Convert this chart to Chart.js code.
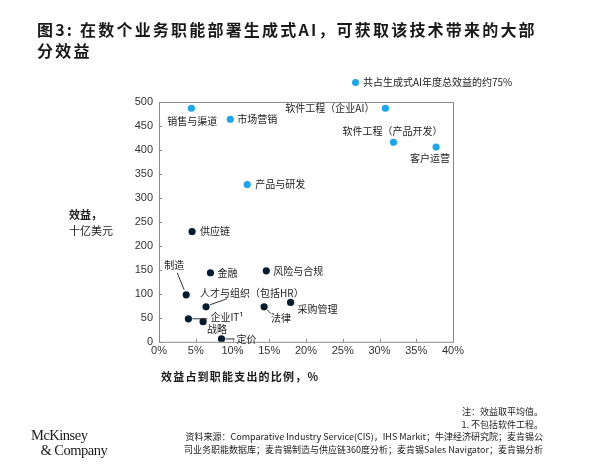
<!DOCTYPE html>
<html>
<head>
<meta charset="utf-8">
<script src="https://cdn.jsdelivr.net/npm/chart.js@4.4.0/dist/chart.umd.min.js"></script>
<style>
  body { margin: 0; background: #fff; }
  #wrap { position: relative; width: 600px; height: 471px; overflow: hidden; }
  #wrap canvas { position: absolute; left: 0; top: 0; }
  #wrap div { position: absolute; white-space: nowrap; color: #1a1a1a; }
  .cjk { font-family: "Noto Sans CJK SC", "Liberation Sans", sans-serif; }
  #title { left: 37px; top: 19px; font-size: 16px; font-weight: bold; line-height: 21px; letter-spacing: 2.2px; color: #111; }
  #legend { left: 352px; top: 74px; font-size: 10px; color: #333; }
  #legend span.dot { display: inline-block; width: 7px; height: 7px; border-radius: 50%; background: #1aa7ec; margin-right: 4px; vertical-align: 0px; }
  #ytitle { left: 69px; top: 206px; font-size: 11px; line-height: 16px; color: #222; }
  #xtitle { left: 161px; top: 368px; font-size: 11px; font-weight: bold; letter-spacing: 1.2px; color: #222; }
  #notes { right: 57px; top: 406px; font-size: 9px; line-height: 12.5px; text-align: right; color: #333; }
  #logo { left: 31px; top: 428px; font-family: "Liberation Serif", "DejaVu Serif", serif; font-size: 14.5px; line-height: 15px; color: #0b1f3a; letter-spacing: -0.5px; }
</style>
</head>
<body>
<div id="wrap">
  <canvas id="chart" width="600" height="471"></canvas>
  <div id="title" class="cjk">图3: 在数个业务职能部署生成式AI，可获取该技术带来的大部<br>分效益</div>
  <div id="legend" class="cjk"><span class="dot"></span>共占生成式AI年度总效益的约75%</div>
  <div id="ytitle" class="cjk"><b>效益，</b><br>十亿美元</div>
  <div id="xtitle" class="cjk">效益占到职能支出的比例，%</div>
  <div id="notes" class="cjk">注：效益取平均值。<br>1. 不包括软件工程。<br>资料来源：Comparative Industry Service(CIS)，IHS Markit；牛津经济研究院；麦肯锡公<br>司业务职能数据库；麦肯锡制造与供应链360度分析；麦肯锡Sales Navigator；麦肯锡分析</div>
  <div id="logo">McKinsey<br>&nbsp;&nbsp;&nbsp;&amp; Company</div>
</div>
<script>
// 数据：蓝点 = 共占约75%的职能
const blueNames = ['销售与渠道', '市场营销', '软件工程（企业AI）', '软件工程（产品开发）', '客户运营', '产品与研发'];
const blueShare = [4.4, 9.7, 30.8, 31.9, 37.7, 12.0];
const blueValue = [487, 464, 487, 416, 406, 328];

// 其余职能
const darkNames = ['供应链', '制造', '金融', '风险与合规', '人才与组织（包括HR）', '法律', '采购管理', '企业IT¹', '战略', '定价'];
const darkShare = [4.5, 3.7, 7.0, 14.6, 6.4, 14.3, 17.9, 4.0, 6.0, 8.5];
const darkValue = [230, 98, 144, 148, 73, 73, 82, 48, 42, 6];

const xTicks = [0, 5, 10, 15, 20, 25, 30, 35, 40];
const yTicks = [0, 50, 100, 150, 200, 250, 300, 350, 400, 450, 500];

const BLUE = '#1aa7ec';
const DARK = '#061b2e';

// 标签位置（相对点的像素偏移）和引线
const labelStyle = {
  '销售与渠道': { dx: 1, dy: 13, align: 'center' },
  '市场营销': { dx: 7, dy: 0, align: 'left' },
  '软件工程（企业AI）': { dx: -11, dy: 0, align: 'right' },
  '软件工程（产品开发）': { dx: -1, dy: -11, align: 'center' },
  '客户运营': { dx: -6, dy: 11, align: 'center' },
  '产品与研发': { dx: 8, dy: 0, align: 'left' },
  '供应链': { dx: 8, dy: 0, align: 'left' },
  '制造': { dx: -12, dy: -30, align: 'center', line: [-9, -22, -2, -5] },
  '金融': { dx: 7, dy: 0, align: 'left' },
  '风险与合规': { dx: 7, dy: 0, align: 'left' },
  '人才与组织（包括HR）': { dx: -6, dy: -14, align: 'left', line: [4, -2, 21, -8] },
  '法律': { dx: 7, dy: 11, align: 'left', line: [3, 3, 7, 7] },
  '采购管理': { dx: 7, dy: 7, align: 'left' },
  '企业IT¹': { dx: 22, dy: -2, align: 'left', line: [4, 0, 19, 0] },
  '战略': { dx: 14, dy: 8, align: 'center' },
  '定价': { dx: 15, dy: 0, align: 'left', line: [4, 0, 13, 0] }
};

function toPoints(xs, ys) {
  return xs.map((x, i) => ({ x: x, y: ys[i] }));
}

const framePlugin = {
  id: 'frame',
  beforeDatasetsDraw(chart) {
    const ctx = chart.ctx;
    const a = chart.chartArea;
    const xs = chart.scales.x;
    const ys = chart.scales.y;
    ctx.save();
    ctx.strokeStyle = '#8a8a8a';
    ctx.lineWidth = 1;
    ctx.strokeRect(a.left + 0.5, a.top + 0.5, a.right - a.left, a.bottom - a.top);
    ctx.beginPath();
    xTicks.forEach(v => {
      const px = Math.round(xs.getPixelForValue(v)) + 0.5;
      ctx.moveTo(px, a.bottom);
      ctx.lineTo(px, a.bottom - 3);
    });
    yTicks.forEach(v => {
      const py = Math.round(ys.getPixelForValue(v)) + 0.5;
      ctx.moveTo(a.left, py);
      ctx.lineTo(a.left + 3, py);
    });
    ctx.stroke();
    ctx.restore();
  }
};

const labelPlugin = {
  id: 'pointLabels',
  afterDatasetsDraw(chart) {
    const ctx = chart.ctx;
    ctx.save();
    ctx.font = '10px "Noto Sans CJK SC", sans-serif';
    ctx.textBaseline = 'middle';
    chart.data.datasets.forEach((ds, di) => {
      const meta = chart.getDatasetMeta(di);
      meta.data.forEach((pt, i) => {
        const name = ds.names[i];
        const s = labelStyle[name];
        if (!s) return;
        if (s.line) {
          ctx.strokeStyle = '#333';
          ctx.lineWidth = 1;
          ctx.beginPath();
          ctx.moveTo(pt.x + s.line[0], pt.y + s.line[1]);
          ctx.lineTo(pt.x + s.line[2], pt.y + s.line[3]);
          ctx.stroke();
        }
        ctx.fillStyle = '#222';
        ctx.textAlign = s.align;
        ctx.fillText(name, pt.x + s.dx, pt.y + s.dy);
      });
    });
    ctx.restore();
  }
};

new Chart(document.getElementById('chart'), {
  type: 'scatter',
  data: {
    datasets: [
      {
        names: blueNames,
        data: toPoints(blueShare, blueValue),
        backgroundColor: BLUE,
        borderWidth: 0,
        pointRadius: 3.6
      },
      {
        names: darkNames,
        data: toPoints(darkShare, darkValue),
        backgroundColor: DARK,
        borderWidth: 0,
        pointRadius: 3.6
      }
    ]
  },
  options: {
    responsive: false,
    animation: false,
    layout: { padding: { left: 0, top: 102, right: 147, bottom: 110 } },
    plugins: { legend: { display: false }, tooltip: { enabled: false } },
    scales: {
      x: {
        type: 'linear',
        min: 0,
        max: 40,
        afterBuildTicks: axis => { axis.ticks = xTicks.map(v => ({ value: v })); },
        grid: { display: false, drawTicks: false },
        border: { display: false },
        ticks: {
          padding: 3,
          maxRotation: 0,
          color: '#333',
          font: { family: 'Liberation Sans', size: 11 },
          callback: v => v + '%'
        }
      },
      y: {
        type: 'linear',
        min: 0,
        max: 500,
        afterBuildTicks: axis => { axis.ticks = yTicks.map(v => ({ value: v })); },
        afterFit: axis => { axis.width = 159; },
        grid: { display: false, drawTicks: false },
        border: { display: false },
        ticks: {
          padding: 6,
          color: '#333',
          font: { family: 'Liberation Sans', size: 11 }
        }
      }
    }
  },
  plugins: [framePlugin, labelPlugin]
});
</script>
</body>
</html>
